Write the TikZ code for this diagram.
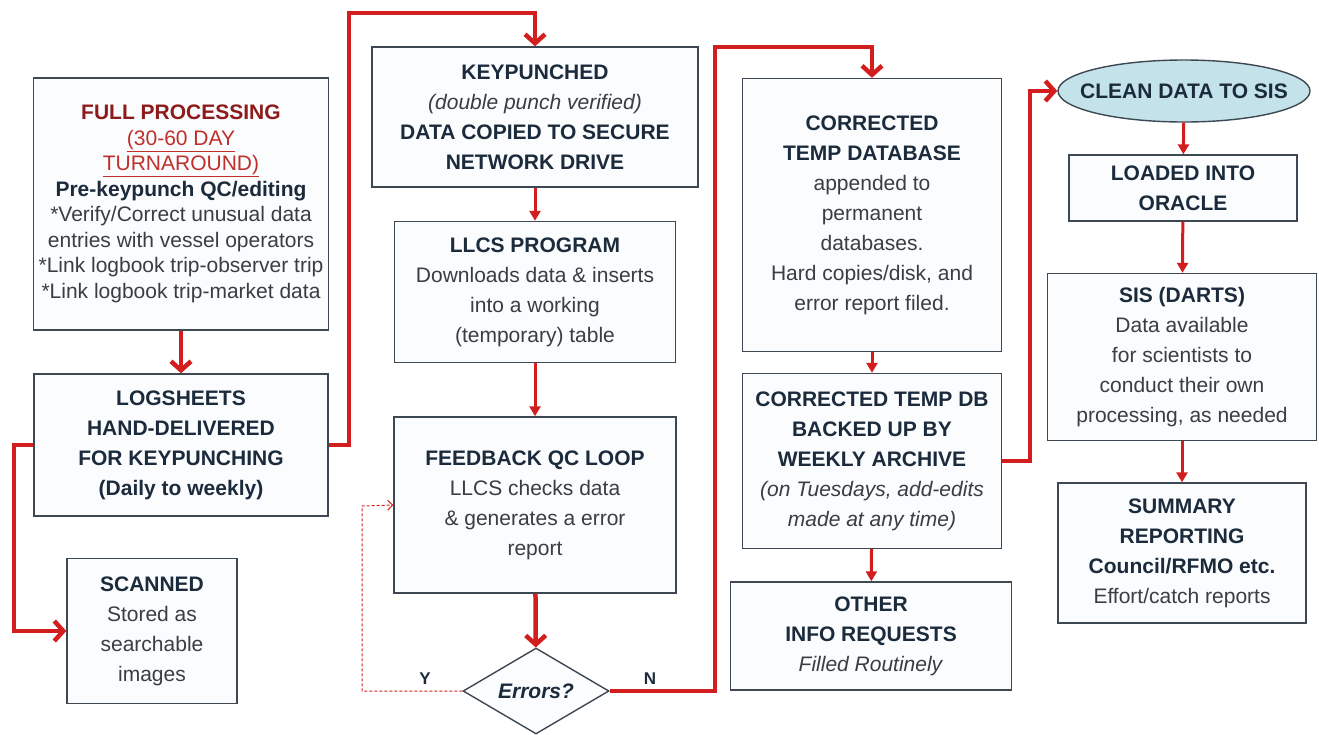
\documentclass[tikz,border=0pt]{standalone}
\usepackage{fontspec}
\setmainfont{Liberation Sans}
\usepackage{tikz}
\usetikzlibrary{arrows.meta}
\usetikzlibrary{shapes.geometric}
\definecolor{navy}{HTML}{1C2B3C}
\definecolor{txtgray}{HTML}{383E44}
\definecolor{boxgray}{HTML}{3E4852}
\definecolor{boxfill}{HTML}{FAFCFD}
\definecolor{arrred}{HTML}{D21E1E}
\definecolor{titlered}{HTML}{8E1B1B}
\definecolor{subred}{HTML}{C0302B}
\definecolor{cleanfill}{HTML}{C4E2E9}
\newcommand{\boxhead}[1]{{\bfseries\color{navy}#1}}
\tikzset{box/.style={draw=boxgray, line width=1.4pt, fill=boxfill, align=center,
      inner sep=0pt, text=txtgray, font=\fontsize{21}{30}\selectfont},
  bigarr/.style={draw=arrred, line width=4.5pt,
      -{Straight Barb[length=9pt,width=20pt]}},
  smallarr/.style={draw=arrred, line width=3pt,
      -{Triangle[length=10pt,width=11pt]}},
  yesarr/.style={draw=arrred, line width=1pt, densely dashed,
      -{Straight Barb[length=5pt,width=10pt]}},
  tag/.style={font=\fontsize{17}{17}\selectfont\bfseries, text=navy}}

\begin{document}
\begin{tikzpicture}[x=1pt, y=-1pt]
		\useasboundingbox (0,0) rectangle (1319,734);
		\node[box, minimum width=295pt, minimum height=252pt, font=\fontsize{21}{25.5}\selectfont] (full) at (181,204)
			{{\bfseries\color{titlered}FULL PROCESSING}\\
			{\color{subred}\underline{(30-60 DAY}}\\
			{\color{subred}\underline{TURNAROUND)}}\\
			\boxhead{Pre-keypunch QC/editing}\\
			*Verify/Correct unusual data\\
			entries with vessel operators\\
			*Link logbook trip-observer trip\\
			*Link logbook trip-market data};
		\node[box, minimum width=294pt, minimum height=142pt] (logs) at (181,445)
			{\boxhead{LOGSHEETS}\\ \boxhead{HAND-DELIVERED}\\ \boxhead{FOR KEYPUNCHING}\\ \boxhead{(Daily to weekly)}};
		\node[box, minimum width=170pt, minimum height=145pt] (scan) at (152,631)
			{\boxhead{SCANNED}\\ Stored as\\ searchable\\ images};
		\node[box, minimum width=326pt, minimum height=140pt] (key) at (535,117)
			{\boxhead{KEYPUNCHED}\\ \textit{(double punch verified)}\\ \boxhead{DATA COPIED TO SECURE}\\ \boxhead{NETWORK DRIVE}};
		\node[box, minimum width=281pt, minimum height=141pt] (llcs) at (535,292)
			{\boxhead{LLCS PROGRAM}\\ Downloads data \& inserts\\ into a working\\ (temporary) table};
		\node[box, minimum width=282pt, minimum height=176pt] (fb) at (535,505)
			{\boxhead{FEEDBACK QC LOOP}\\ LLCS checks data\\ \& generates a error\\ report};
		\node[box, shape=diamond, minimum width=146pt, minimum height=86pt, aspect=1.7] (err) at (536,691)
			{\boxhead{\itshape Errors?}};
		\node[box, minimum width=259pt, minimum height=273pt] (ctd) at (872,215)
			{\boxhead{CORRECTED}\\ \boxhead{TEMP DATABASE}\\ appended to\\ permanent\\ databases.\\ Hard copies/disk, and\\ error report filed.};
		\node[box, minimum width=259pt, minimum height=175pt] (bak) at (872,461)
			{\boxhead{CORRECTED TEMP DB}\\ \boxhead{BACKED UP BY}\\ \boxhead{WEEKLY ARCHIVE}\\ \textit{(on Tuesdays, add-edits}\\ \textit{made at any time)}};
		\node[box, minimum width=281pt, minimum height=108pt] (oth) at (871,636)
			{\boxhead{OTHER}\\ \boxhead{INFO REQUESTS}\\ \textit{Filled Routinely}};
		\node[box, shape=ellipse, fill=cleanfill, minimum width=252pt, minimum height=62pt] (clean) at (1184,91)
			{\makebox[160pt]{\boxhead{CLEAN DATA TO SIS}}};
		\node[box, minimum width=228pt, minimum height=66pt] (load) at (1183,188)
			{\boxhead{LOADED INTO}\\ \boxhead{ORACLE}};
		\node[box, minimum width=269pt, minimum height=167pt] (sis) at (1182,357)
			{\boxhead{SIS (DARTS)}\\ Data available\\ for scientists to\\ conduct their own\\ processing, as needed};
		\node[box, minimum width=248pt, minimum height=140pt] (sum) at (1182,553)
			{\boxhead{SUMMARY}\\ \boxhead{REPORTING}\\ \boxhead{Council/RFMO etc.}\\ Effort/catch reports};
		\coordinate (b1) at (349,13);
		\coordinate (b2) at (14,631);
		\coordinate (b3) at (362,506);
		\coordinate (b4) at (715,47);
		\coordinate (b5) at (1030,91);
		\draw[bigarr] (full) -- (logs);
		\draw[bigarr] (logs.east) -| (b1) -| (key.north);
		\draw[bigarr] (logs.west) -| (b2) -- (scan.west);
		\draw[smallarr] (key) -- (llcs);
		\draw[smallarr] (llcs) -- (fb);
		\draw[bigarr] (fb) -- (err);
		\draw[yesarr] (err.west) -| (b3) -- (fb.west);
		\draw[bigarr] (err.east) -| (b4) -| (ctd.north);
		\draw[smallarr] (ctd) -- (bak);
		\draw[smallarr] (bak) -- (oth);
		\draw[bigarr] (bak.east) -| (b5) -- (clean.west);
		\draw[smallarr] (clean) -- (load);
		\draw[smallarr] (load) -- (sis);
		\draw[smallarr] (sis) -- (sum);
		\node[tag] (ylab) at (425,679) {Y};
		\node[tag] (nlab) at (650,679) {N};
		\end{tikzpicture}
\end{document}
